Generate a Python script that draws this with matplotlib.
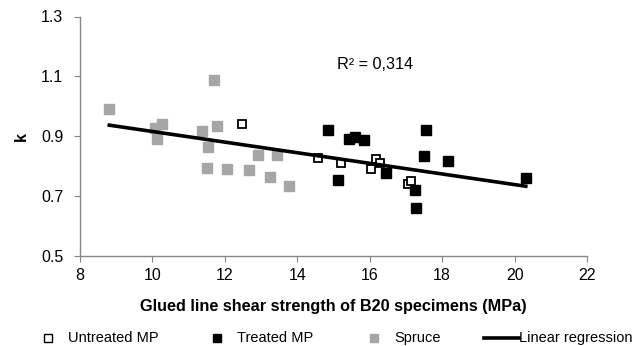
import matplotlib
matplotlib.use("Agg")
import matplotlib.pyplot as plt
from matplotlib.lines import Line2D
import numpy as np

plt.rcParams['font.family'] = ['Liberation Sans', 'DejaVu Sans']

# Data
spruce_x = [8.81, 11.70, 10.26, 10.07, 10.14, 11.36, 11.79, 11.54, 11.50, 12.06, 12.66, 12.91, 13.44, 13.26, 13.78]
spruce_y = [0.992, 1.089, 0.942, 0.926, 0.891, 0.918, 0.933, 0.863, 0.794, 0.789, 0.788, 0.839, 0.839, 0.764, 0.734]

untreated_x = [12.46, 14.58, 15.22, 16.03, 16.18, 16.29, 17.07, 17.14]
untreated_y = [0.940, 0.827, 0.809, 0.791, 0.824, 0.811, 0.742, 0.751]

treated_x = [14.86, 15.13, 15.44, 15.60, 15.85, 16.44, 17.55, 17.50, 17.26, 17.29, 18.16, 20.31]
treated_y = [0.920, 0.753, 0.892, 0.898, 0.889, 0.776, 0.922, 0.834, 0.720, 0.662, 0.817, 0.760]

reg_intercept = 1.0933
reg_slope = -0.01774
reg_range = [8.81, 20.31]
r2_label = "R² = 0,314"

x_ticks = [8, 10, 12, 14, 16, 18, 20, 22]
y_ticks = [0.5, 0.7, 0.9, 1.1, 1.3]
legend_labels = ["Untreated MP", "Treated MP", "Spruce", "Linear regression"]

W, H = 644, 346
fig = plt.figure(figsize=(W/100, H/100), dpi=100)
ax = fig.add_axes([80/W, 1-256/H, (587-80)/W, (256-16.5)/H])

gray = '#A6A6A6'
axcol = '#868686'
ms = 7.2
ax.plot(spruce_x, spruce_y, 's', color=gray, ms=ms, mec=gray, ls='none', zorder=3)
ax.plot(untreated_x, untreated_y, 's', mfc='white', mec='black', mew=1.3, ms=ms-1, ls='none', zorder=4)
ax.plot(treated_x, treated_y, 's', color='black', ms=ms, ls='none', zorder=4)

xr = np.array(reg_range)
ax.plot(xr, reg_intercept + reg_slope * xr, color='black', lw=2.6, zorder=5)

ax.text(15.1, 1.14, r2_label, fontsize=11.7, ha='left', va='center')

ax.set_xlim(8, 22)
ax.set_ylim(0.5, 1.3)
ax.set_xticks(x_ticks)
ax.set_yticks(y_ticks)
ax.set_xticklabels([str(t) for t in x_ticks])
ax.set_yticklabels([f"{t:.1f}" for t in y_ticks])
for s in ['top', 'right']:
    ax.spines[s].set_visible(False)
for s in ['left', 'bottom']:
    ax.spines[s].set_color(axcol)
    ax.spines[s].set_linewidth(1.0)
ax.tick_params(axis='both', direction='out', length=4, color=axcol, labelsize=11.5)
ax.tick_params(axis='y', pad=8)
ax.tick_params(axis='x', pad=5)

ax.set_xlabel("Glued line shear strength of B20 specimens (MPa)", fontsize=11.7,
              fontweight='bold', labelpad=11)
ax.set_ylabel("k", fontsize=11.7, fontweight='bold', labelpad=9)

# Legend drawn manually (Excel-like irregular spacing)
ly = 1 - 338/H
fs = 10.5
fig.add_artist(Line2D([48/W], [ly], marker='s', mfc='white', mec='black', mew=1.0, ms=6, ls='none',
                      transform=fig.transFigure))
fig.text(68/W, ly, legend_labels[0], fontsize=fs, ha='left', va='center')
fig.add_artist(Line2D([217/W], [ly], marker='s', color='black', ms=6, ls='none',
                      transform=fig.transFigure))
fig.text(237/W, ly, legend_labels[1], fontsize=fs, ha='left', va='center')
fig.add_artist(Line2D([374/W], [ly], marker='s', color=gray, ms=6, ls='none',
                      transform=fig.transFigure))
fig.text(394/W, ly, legend_labels[2], fontsize=fs, ha='left', va='center')
fig.add_artist(Line2D([484/W, 519/W], [ly, ly], color='black', lw=2.6,
                      transform=fig.transFigure))
fig.text(519/W, ly, legend_labels[3], fontsize=fs, ha='left', va='center')

fig.savefig("out.png", dpi=100)
